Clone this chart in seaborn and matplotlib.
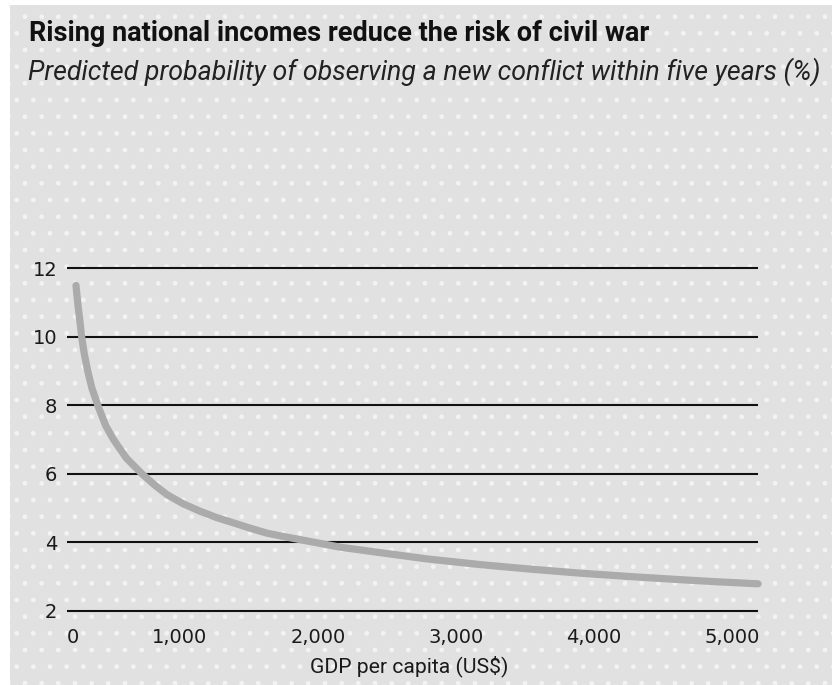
import matplotlib
matplotlib.use("Agg")
import matplotlib.pyplot as plt
import matplotlib.transforms as mtransforms
from matplotlib.patches import Rectangle
import seaborn as sns
import pandas as pd

# ---- data ----
gdp_per_capita = [65, 80, 95, 106, 125, 150, 180, 227, 280, 336, 430, 541, 630, 722,
                  840, 964, 1080, 1205, 1330, 1447, 1570, 1688, 1978, 2268, 2600,
                  2993, 3350, 3717, 4080, 4442, 4700, 5000]
conflict_prob = [11.5, 10.9, 10.4, 10.0, 9.5, 9.0, 8.5, 7.95, 7.4, 7.0, 6.45, 6.0, 5.68, 5.39,
                 5.12, 4.90, 4.72, 4.56, 4.40, 4.26, 4.16, 4.07, 3.85, 3.69, 3.51,
                 3.34, 3.21, 3.09, 2.99, 2.90, 2.84, 2.78]
x_ticks = [0, 1000, 2000, 3000, 4000, 5000]
x_tick_labels = ["0", "1,000", "2,000", "3,000", "4,000", "5,000"]
y_ticks = [2, 4, 6, 8, 10, 12]
y_tick_labels = ["2", "4", "6", "8", "10", "12"]

title = "Rising national incomes reduce the risk of civil war"
subtitle = "Predicted probability of observing a new conflict within five years (%)"
x_label = "GDP per capita (US$)"

df = pd.DataFrame({"gdp": gdp_per_capita, "prob": conflict_prob})

sns.set_theme(style="white")
plt.rcParams["font.family"] = ["DejaVu Sans"]

W, H = 832, 685
fig = plt.figure(figsize=(W / 100, H / 100), dpi=100)
fig.patch.set_facecolor("white")

# background panel with dotted texture
bg = Rectangle((10 / W, 0), 1 - 10 / W, 1 - 5 / H, transform=fig.transFigure,
               facecolor="#e1e1e1", edgecolor="#f3f3f3", linewidth=0,
               hatch=".", zorder=-10)
fig.patches.append(bg)

ylo, yhi = 1.9, 12.1
px_per_unit = (610.5 - 268.3) / 10
bottom_px = (H - 610.5) - (2 - ylo) * px_per_unit
top_px = (H - 268.3) + (yhi - 12) * px_per_unit
ax = fig.add_axes([67 / W, bottom_px / H, (758 - 67) / W, (top_px - bottom_px) / H])
ax.set_facecolor("none")

sns.lineplot(data=df, x="gdp", y="prob", ax=ax, color="#ababab", linewidth=5.2,
             solid_capstyle="round", solid_joinstyle="round", zorder=5, clip_on=False)

ax.set_xlim(0, 5000)
ax.set_ylim(ylo, yhi)
ax.set_yticks(y_ticks)
ax.set_yticklabels(y_tick_labels)
ax.set_xticks(x_ticks)
ax.set_xticklabels(x_tick_labels)
ax.yaxis.grid(True, color="#111111", linewidth=1.5)
ax.xaxis.grid(False)
ax.set_axisbelow(True)
for s in ax.spines.values():
    s.set_visible(False)
ax.tick_params(axis="both", length=0, labelsize=14, labelcolor="#1a1a1a")
ax.tick_params(axis="y", pad=7)
ax.tick_params(axis="x", pad=10)
for i, lab in enumerate(ax.get_xticklabels()):
    if i == 0:
        lab.set_ha("left")
    else:
        lab.set_ha("right")
        lab.set_transform(lab.get_transform() + mtransforms.ScaledTranslation(2 / 100, 0, fig.dpi_scale_trans))
ax.set_xlabel("")
ax.set_ylabel("")

fig.canvas.draw()
renderer = fig.canvas.get_renderer()


def fit_text(x_px, y_px, s, target_w, **kw):
    t = fig.text(x_px / W, 1 - y_px / H, s, fontsize=20, va="baseline", **kw)
    w = t.get_window_extent(renderer).width
    t.set_fontsize(20 * target_w / w)
    return t


fit_text(29, 41, title, 618, fontweight="bold", family=["Roboto", "DejaVu Sans"],
         color="#111111")
fit_text(28, 80, subtitle, 792, fontstyle="italic", family=["Roboto", "DejaVu Sans"],
         color="#222222")
xl = fig.text(409 / W, 1 - 672 / H, x_label, fontsize=12, ha="center", va="baseline",
              family=["Roboto", "DejaVu Sans"], color="#1a1a1a")
w = xl.get_window_extent(renderer).width
xl.set_fontsize(12 * 198 / w)

fig.savefig("out.png", dpi=100, facecolor=fig.get_facecolor())
